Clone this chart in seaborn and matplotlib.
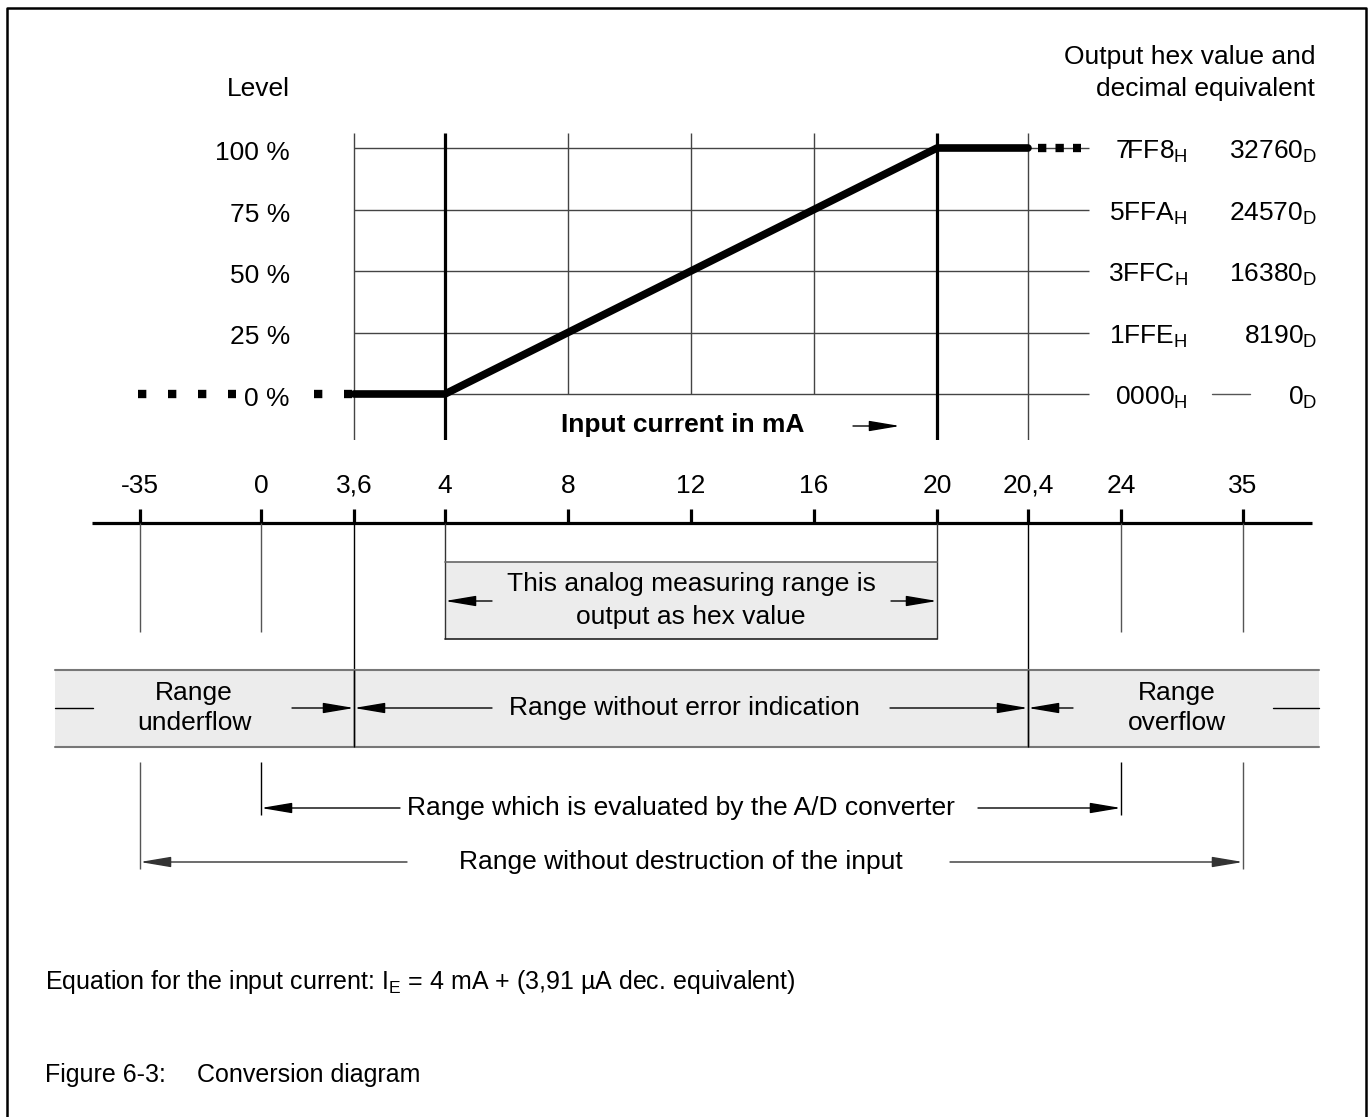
import numpy as np
import matplotlib
matplotlib.use("Agg")
import matplotlib.pyplot as plt
import matplotlib.patches as mpatches
import seaborn as sns

# values
tick_values = [-35, 0, 3.6, 4, 8, 12, 16, 20, 20.4, 24, 35]
tick_labels = ["-35", "0", "3,6", "4", "8", "12", "16", "20", "20,4", "24", "35"]
levels = [0, 25, 50, 75, 100]
level_labels = ["0 %", "25 %", "50 %", "75 %", "100 %"]
hex_values = ["0000", "1FFE", "3FFC", "5FFA", "7FF8"]
dec_values = [0, 8190, 16380, 24570, 32760]
curve_current = [3.6, 4, 20, 20.4]
curve_level = [0, 0, 100, 100]
inner_grid = [8, 12, 16]
hex_range = [4, 20]
no_error_range = [3.6, 20.4]
ad_range = [0, 24]
safe_range = [-35, 35]

# layout of the schematic (pixels of a 1372x1117 canvas)
W, H = 1372, 1117
TICK_PX = [140, 261, 354, 445, 568, 691, 814, 937, 1028, 1121, 1243]
Y0, Y100 = 394, 148          # 0 % and 100 % rows
CH_TOP, CH_BOT = 133, 440    # extent of the chart grid
AXIS_Y = 523
FS = 19

_v = np.r_[-100, tick_values, 100]
_p = np.r_[0, TICK_PX, W]


def to_px(v):
    return np.interp(v, _v, _p)


def to_ma(p):
    return np.interp(p, _p, _v)


def level_y(lv):
    return np.interp(lv, [0, 100], [Y0, Y100])


sns.set_theme(style="white")
plt.rcParams["font.family"] = ["Liberation Sans", "DejaVu Sans"]
plt.rcParams["text.color"] = "black"
plt.rcParams["mathtext.fontset"] = "custom"
plt.rcParams["mathtext.rm"] = "Liberation Sans"
plt.rcParams["mathtext.it"] = "Liberation Sans:italic"
plt.rcParams["mathtext.bf"] = "Liberation Sans:bold"

fig = plt.figure(figsize=(W / 100, H / 100), dpi=100)
ax = fig.add_axes([0, 0, 1, 1])
ax.set_xlim(0, W)
ax.set_ylim(H, 0)
ax.axis("off")

# chart part: x in mA on the schematic scale, y in percent
axc = fig.add_axes([0, 1 - CH_BOT / H, 1, (CH_BOT - CH_TOP) / H])
axc.set_xscale("function", functions=(to_px, to_ma))
axc.set_xlim(-100, 100)
k = 100 / (Y0 - Y100)
ylo, yhi = (Y0 - CH_BOT) * k, (Y0 - CH_TOP) * k
axc.set_ylim(ylo, yhi)
axc.axis("off")
axc.patch.set_alpha(0)

# frame
ax.plot([7, 7, 1366, 1366], [H + 5, 8, 8, H + 5], color="black", lw=1.8)

# grid
axc.hlines(levels, no_error_range[0], to_ma(1089), color="#444444", lw=1.0)
axc.vlines(inner_grid, 0, yhi, color="#444444", lw=1.0)
axc.vlines(no_error_range, ylo, yhi, color="#444444", lw=1.0)
axc.vlines(hex_range, ylo, yhi, color="black", lw=2.3)

# characteristic curve
sns.lineplot(x=curve_current, y=curve_level, ax=axc, color="black", lw=5.5,
             sort=False, estimator=None)
dot = dict(color="black", lw=6, solid_capstyle="butt", dash_capstyle="butt")
axc.plot([to_ma(138), to_ma(236)], [0, 0], ls=(0, (1, 2.6)), **dot)
axc.plot([to_ma(314), to_ma(352)], [0, 0], ls=(0, (1, 2.6)), **dot)
axc.plot([to_ma(1038), to_ma(1081)], [100, 100], ls=(0, (1, 1.1)), **dot)

# left labels
ax.text(258, 89, "Level", ha="center", va="center", fontsize=FS)
for lv, lab in zip(levels, level_labels):
    ax.text(290, level_y(lv) + 12, lab, ha="right", va="baseline", fontsize=FS)

# right labels
ax.text(1315, 57, "Output hex value and", ha="right", va="center", fontsize=FS)
ax.text(1315, 89, "decimal equivalent", ha="right", va="center", fontsize=FS)
for lv, hx, dv in zip(levels, hex_values, dec_values):
    y = level_y(lv) + 11
    ax.text(1188, y, hx + r"$_\mathrm{H}$", ha="right", va="baseline", fontsize=FS)
    ax.text(1317, y, str(dv) + r"$_\mathrm{D}$", ha="right", va="baseline", fontsize=FS)
ax.plot([1212, 1250], [Y0, Y0], color="#555555", lw=1.0)


def arrow(x_tail, x_tip, y, color="black"):
    ax.annotate("", xy=(x_tip, y), xytext=(x_tail, y),
                arrowprops=dict(arrowstyle="-|>,head_length=1.9,head_width=0.32",
                                color=color, lw=1.0, shrinkA=0, shrinkB=0,
                                mutation_scale=10))


ax.text(683, 425, "Input current in mA", ha="center", va="center",
        fontsize=FS, fontweight="bold")
arrow(853, 900, 426)

# current axis
xs = to_px(tick_values)
ax.plot([92, 1312], [AXIS_Y, AXIS_Y], color="black", lw=2.3, solid_capstyle="butt")
ax.vlines(xs, 509, AXIS_Y, color="black", lw=2.3)
for x, lab in zip(xs, tick_labels):
    ax.text(x, 493, lab, ha="center", va="baseline", fontsize=FS)

# drop lines
ax.vlines(to_px(safe_range + ad_range), AXIS_Y, 632, color="#555555", lw=1.0)
ax.vlines(to_px(no_error_range), AXIS_Y, 747, color="black", lw=1.0)

# hex output box
bx0, bx1 = to_px(hex_range)
ax.add_patch(mpatches.Rectangle((bx0, 562), bx1 - bx0, 639 - 562,
                                facecolor="#ececec", edgecolor="none"))
ax.vlines([bx0, bx1], AXIS_Y, 639, color="#333333", lw=1.0)
ax.plot([bx0, bx1], [562, 562], color="#666666", lw=1.2)
ax.plot([bx0, bx1], [639, 639], color="#222222", lw=1.2)
ax.text(691, 584, "This analog measuring range is", ha="center", va="center", fontsize=FS)
ax.text(691, 617, "output as hex value", ha="center", va="center", fontsize=FS)
arrow(492, bx0, 601)
arrow(891, bx1, 601)

# band of ranges
ax.add_patch(mpatches.Rectangle((55, 670), 1319 - 55, 747 - 670,
                                facecolor="#ececec", edgecolor="none", zorder=0))
ax.plot([55, 1319], [670, 670], color="#777777", lw=1.5)
ax.plot([55, 1319], [747, 747], color="#777777", lw=1.5)
ne0, ne1 = to_px(no_error_range)
ax.vlines([ne0, ne1], 670, 747, color="black", lw=1.0)
ax.plot([55, 93], [708, 708], color="black", lw=1.0)
ax.text(194, 693, "Range", ha="center", va="center", fontsize=FS)
ax.text(194, 723, "underflow", ha="center", va="center", fontsize=FS)
arrow(292, ne0, 708)
arrow(492, ne0, 708)
ax.text(684, 708, "Range without error indication", ha="center", va="center", fontsize=FS)
arrow(890, ne1, 708)
arrow(1073, ne1, 708)
ax.text(1177, 693, "Range", ha="center", va="center", fontsize=FS)
ax.text(1177, 723, "overflow", ha="center", va="center", fontsize=FS)
ax.plot([1273, 1319], [708, 708], color="black", lw=1.0)

# evaluated / destruction ranges
a0, a1 = to_px(ad_range)
s0, s1 = to_px(safe_range)
ax.vlines([a0, a1], 762, 815, color="black", lw=1.0)
ax.vlines([s0, s1], 762, 869, color="#555555", lw=1.0)
arrow(400, a0, 808)
arrow(978, a1, 808)
ax.text(681, 808, "Range which is evaluated by the A/D converter",
        ha="center", va="center", fontsize=FS)
arrow(407, s0, 862, color="#333333")
arrow(950, s1, 862, color="#333333")
ax.text(681, 862, "Range without destruction of the input",
        ha="center", va="center", fontsize=FS)

# notes
ax.text(45, 982, r"Equation for the input current: I$_\mathrm{E}$ = 4 mA + (3,91 µA dec. equivalent)",
        ha="left", va="center", fontsize=18)
ax.text(45, 1075, "Figure 6-3:", ha="left", va="center", fontsize=18)
ax.text(197, 1075, "Conversion diagram", ha="left", va="center", fontsize=18)

fig.savefig("out.png", dpi=100)
